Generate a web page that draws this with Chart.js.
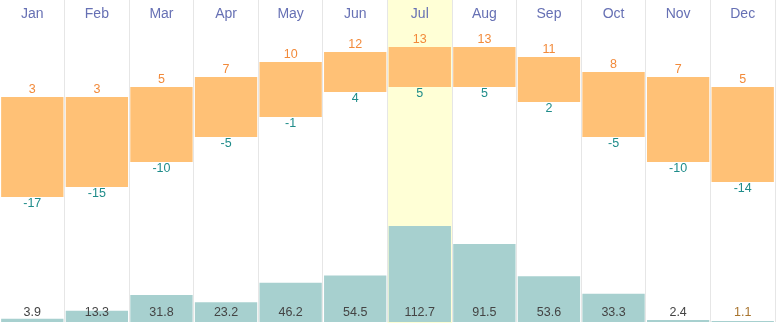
<!DOCTYPE html>
<html>
<head>
<meta charset="utf-8">
<title>Climate by month</title>
<script src="https://cdn.jsdelivr.net/npm/chart.js@4"></script>
<style>
    html, body { margin: 0; padding: 0; background: #fff; }
    #wrap { width: 776px; height: 323px; position: relative; }
</style>
</head>
<body>
<div id="wrap"><canvas id="climateChart"></canvas></div>
<script>
const months = ['Jan', 'Feb', 'Mar', 'Apr', 'May', 'Jun', 'Jul', 'Aug', 'Sep', 'Oct', 'Nov', 'Dec'];
const highTemps = [3, 3, 5, 7, 10, 12, 13, 13, 11, 8, 7, 5];
const lowTemps = [-17, -15, -10, -5, -1, 4, 5, 5, 2, -5, -10, -14];
const precipitation = [3.9, 13.3, 31.8, 23.2, 46.2, 54.5, 112.7, 91.5, 53.6, 33.3, 2.4, 1.1];
const currentMonth = 'Jul';

const FONT = 'Arial, "Liberation Sans", sans-serif';
const precipLabelColors = precipitation.map((v, i) => i === 11 ? '#a8742e' : '#444444');

// yellow column behind the current month
const highlightPlugin = {
    id: 'highlight',
    beforeDraw(chart) {
        const x = chart.scales.x;
        const idx = months.indexOf(currentMonth);
        if (idx < 0) return;
        const half = (x.getPixelForValue(1) - x.getPixelForValue(0)) / 2;
        const cx = x.getPixelForValue(idx);
        const ctx = chart.ctx;
        ctx.save();
        ctx.fillStyle = '#ffffd6';
        ctx.fillRect(cx - half, 0, half * 2, chart.height);
        ctx.restore();
    }
};

// month names and value labels
const labelsPlugin = {
    id: 'labels',
    afterDatasetsDraw(chart) {
        const ctx = chart.ctx;
        const x = chart.scales.x;
        const yP = chart.scales.yP;
        ctx.save();
        ctx.textAlign = 'center';
        ctx.textBaseline = 'middle';

        ctx.font = '14px ' + FONT;
        ctx.fillStyle = '#6670b4';
        months.forEach((m, i) => ctx.fillText(m, x.getPixelForValue(i), 14));

        ctx.font = '12.5px ' + FONT;
        chart.getDatasetMeta(0).data.forEach((bar, i) => {
            const top = Math.min(bar.y, bar.base);
            const bottom = Math.max(bar.y, bar.base);
            ctx.fillStyle = '#f28a3a';
            ctx.fillText(highTemps[i], bar.x, top - 7.5);
            ctx.fillStyle = '#1f8c8a';
            ctx.fillText(lowTemps[i], bar.x, bottom + 7);
        });

        const base = yP.getPixelForValue(0);
        chart.getDatasetMeta(1).data.forEach((bar, i) => {
            ctx.fillStyle = precipLabelColors[i];
            ctx.fillText(precipitation[i].toFixed(1), bar.x, base - 9);
        });
        ctx.restore();
    }
};

new Chart(document.getElementById('climateChart'), {
    type: 'bar',
    data: {
        labels: months,
        datasets: [
            {
                label: 'Temperature',
                data: months.map((m, i) => [lowTemps[i], highTemps[i]]),
                backgroundColor: '#ffc176',
                yAxisID: 'yT',
                grouped: false,
                barPercentage: 0.965,
                categoryPercentage: 1
            },
            {
                label: 'Precipitation',
                data: precipitation,
                backgroundColor: '#a7d0cf',
                yAxisID: 'yP',
                grouped: false,
                barPercentage: 0.965,
                categoryPercentage: 1
            }
        ]
    },
    options: {
        responsive: true,
        maintainAspectRatio: false,
        animation: false,
        layout: { padding: { left: 0, right: 1, top: 0, bottom: 1 } },
        plugins: {
            legend: { display: false },
            tooltip: { enabled: false }
        },
        scales: {
            x: {
                display: true,
                offset: true,
                border: { display: false },
                grid: { offset: true, color: '#e6e6e6', drawTicks: false, tickLength: 0 },
                ticks: { display: false }
            },
            yT: {
                display: false,
                min: -42,
                max: 22.4
            },
            yP: {
                display: false,
                min: 0,
                max: 378
            }
        }
    },
    plugins: [highlightPlugin, labelsPlugin]
});
</script>
</body>
</html>
